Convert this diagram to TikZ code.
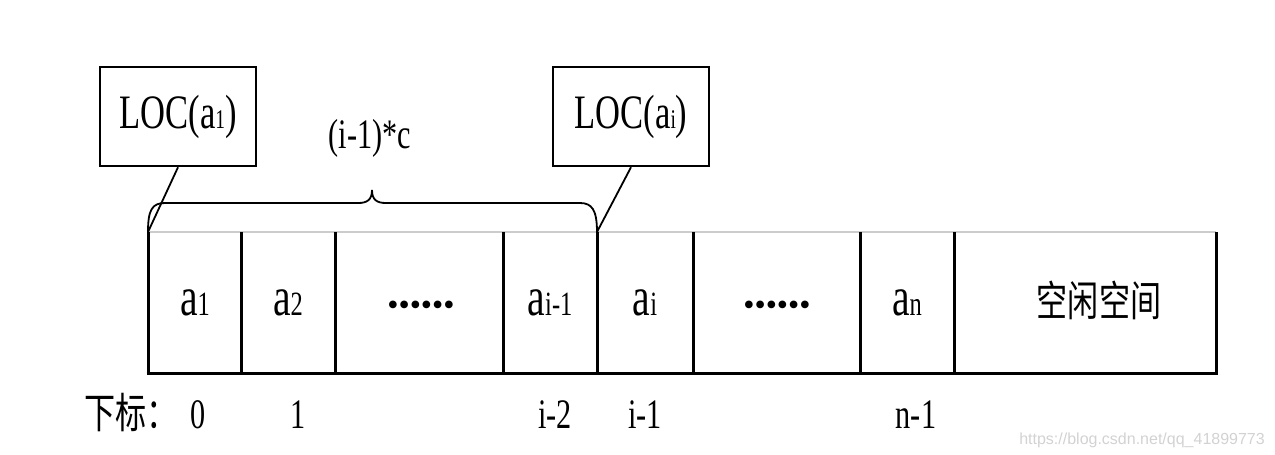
\documentclass[tikz,border=0pt]{standalone}
\usepackage{fontspec}
\setmainfont{Liberation Serif}[FakeStretch=0.72]
\newfontfamily\dotfont{Liberation Serif}
\newfontfamily\cjk{Noto Sans CJK SC}[FakeStretch=0.74]
\newfontfamily\wmfont{Liberation Sans}
\newcommand{\sbs}[1]{{\fontsize{27}{27}\selectfont #1}}
\newcommand{\sbc}[1]{{\fontsize{34}{34}\selectfont #1}}
\newcommand{\sixdots}{{\dotfont\fontsize{32}{32}\selectfont\textbullet\textbullet\textbullet\textbullet\textbullet\textbullet}}
\begin{document}
\begin{tikzpicture}[x=1pt,y=-1pt,
  ctxt/.style={inner sep=0pt,anchor=base,font=\fontsize{55}{60}\selectfont},
  itxt/.style={inner sep=0pt,anchor=base,font=\fontsize{42}{46}\selectfont},
  cjktxt/.style={inner sep=0pt,font=\cjk\fontsize{42}{46}\selectfont},
  locbox/.style={draw,line width=2.5pt,minimum width=156pt,minimum height=99pt,inner sep=0pt,font=\fontsize{48}{52}\selectfont},
  cellline/.style={line width=3pt},
  thin/.style={line width=1.8pt}]
\useasboundingbox (0,0) rectangle (1275,455);
% cell geometry
\foreach \n/\x in {0/148,1/241,2/335,3/503,4/597,5/693,6/860,7/954,8/1216}{
  \coordinate (t\n) at (\x,232);
  \coordinate (b\n) at (\x,373);
}
\draw[gray!40,line width=1.5pt] (t0) -- (t8);
\draw[cellline] ([xshift=-1.5pt]b0) -- ([xshift=1.5pt]b8);
\foreach \n in {0,...,8}{ \draw[cellline] (t\n) -- (b\n); }
% cell labels
\node[ctxt] (ca1) at (195,315) {a\sbc{1}};
\node[ctxt] (ca2) at (288,315) {a\sbc{2}};
\node[ctxt] (cd1) at (421,315) {\sixdots};
\node[ctxt] (cai1) at (550,315) {a\sbc{i-1}};
\node[ctxt] (cai) at (645,315) {a\sbc{i}};
\node[ctxt] (cd2) at (777,315) {\sixdots};
\node[ctxt] (can) at (907,315) {a\sbc{n}};
\node[cjktxt] (free) at (1099,300) {空闲空间};
% index labels
\node[cjktxt,anchor=west] (xb) at (84,413) {下标：};
\node[itxt] (i0) at (198,428) {0};
\node[itxt] (i1) at (298,428) {1};
\node[itxt] (i2) at (555,428) {i-2};
\node[itxt] (i3) at (645,428) {i-1};
\node[itxt] (i4) at (916,428) {n-1};
% LOC boxes
\node[locbox] (loc1) at (178,116.5) {LOC(a\sbs{1})};
\node[locbox] (loci) at (631,116.5) {LOC(a\sbs{i})};
\draw[thin] (loc1.south) -- (t0);
\draw[thin] (loci.south) -- (t4);
% brace
\draw[thin] (t0) .. controls (148,210) and (152,203) .. (165,203) -- (358,203)
  .. controls (367,203) and (372,200) .. (372,190)
  .. controls (372,200) and (377,203) .. (386,203) -- (580,203)
  .. controls (592,203) and (597,210) .. (t4);
\node[itxt] (dist) at (370,148) {(i-1)*c};
% watermark
\node[inner sep=0pt,anchor=east,text=gray!35,font=\wmfont\fontsize{16}{18}\selectfont] (wm) at (1265,440) {https://blog.csdn.net/qq\_41899773};
\end{tikzpicture}
\end{document}
